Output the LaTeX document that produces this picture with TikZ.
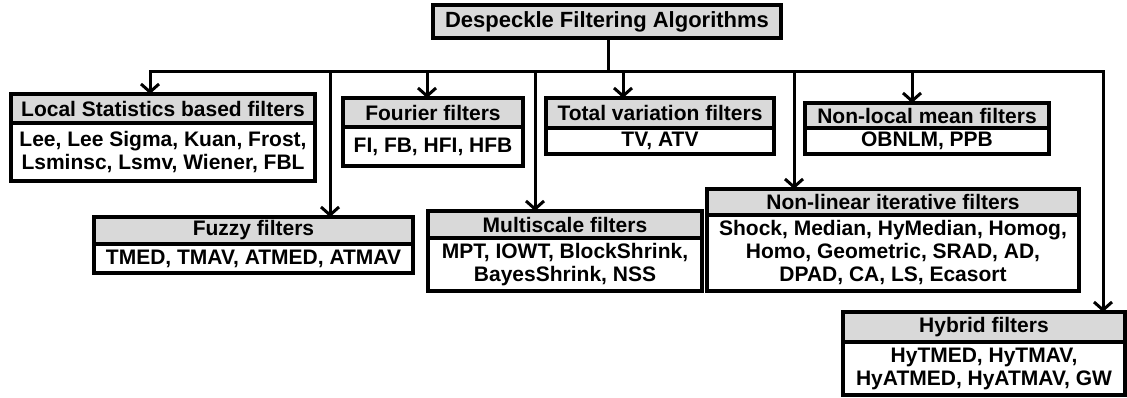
\documentclass[tikz,border=0pt]{standalone}
\usepackage{fontspec}
\setmainfont{Liberation Sans}
\usetikzlibrary{arrows.meta}
\definecolor{headgray}{HTML}{D9D9D9}
\tikzset{
  boxhead/.style={draw, line width=3.5pt, fill=headgray, inner sep=0pt, outer sep=0pt,
    anchor=north west, align=center, font=\fontsize{21}{23}\selectfont\bfseries},
  boxbody/.style={draw, line width=3.5pt, fill=white, inner sep=0pt, outer sep=0pt,
    anchor=north west, align=center, font=\fontsize{21}{23}\selectfont\bfseries},
  link/.style={line width=3pt},
  arr/.style={line width=3pt, -{Straight Barb[length=8pt,width=18pt]}},
}
\begin{document}
\begin{tikzpicture}[x=1pt,y=1pt]
\useasboundingbox (0,0) rectangle (1127,-398);

% root
\node[boxhead, minimum width=348pt, minimum height=33pt,
      font=\fontsize{22}{24}\selectfont\bfseries] (root) at (433,-5)
  {Despeckle Filtering Algorithms};

% Local statistics
\node[boxhead, minimum width=304pt, minimum height=29pt] (localH) at (11,-94)
  {Local Statistics based filters};
\node[boxbody, minimum width=304pt, minimum height=58pt] (localB) at (localH.south west)
  {Lee, Lee Sigma, Kuan, Frost,\\Lsminsc, Lsmv, Wiener, FBL};

% Fourier
\node[boxhead, minimum width=180pt, minimum height=29pt] (fourH) at (343,-98)
  {Fourier filters};
\node[boxbody, minimum width=180pt, minimum height=39pt] (fourB) at (fourH.south west)
  {FI, FB, HFI, HFB};

% Total variation
\node[boxhead, minimum width=228pt, minimum height=30pt] (tvH) at (546,-98)
  {Total variation filters};
\node[boxbody, minimum width=228pt, minimum height=26pt] (tvB) at (tvH.south west)
  {TV, ATV};

% Non-local mean
\node[boxhead, minimum width=244pt, minimum height=25pt] (nlmH) at (805,-103)
  {Non-local mean filters};
\node[boxbody, minimum width=244pt, minimum height=26pt] (nlmB) at (nlmH.south west)
  {OBNLM, PPB};

% Fuzzy
\node[boxhead, minimum width=319pt, minimum height=27pt] (fuzH) at (94,-217)
  {Fuzzy filters};
\node[boxbody, minimum width=319pt, minimum height=29pt] (fuzB) at (fuzH.south west)
  {TMED, TMAV, ATMED, ATMAV};

% Multiscale
\node[boxhead, minimum width=274pt, minimum height=27pt] (msH) at (428,-211)
  {Multiscale filters};
\node[boxbody, minimum width=274pt, minimum height=53pt] (msB) at (msH.south west)
  {MPT, IOWT, BlockShrink,\\BayesShrink, NSS};

% Non-linear iterative
\node[boxhead, minimum width=372pt, minimum height=26pt] (nliH) at (707,-189)
  {Non-linear iterative filters};
\node[boxbody, minimum width=372pt, minimum height=76pt] (nliB) at (nliH.south west)
  {Shock, Median, HyMedian, Homog,\\Homo, Geometric, SRAD, AD,\\DPAD, CA, LS, Ecasort};

% Hybrid
\node[boxhead, minimum width=282pt, minimum height=30pt] (hybH) at (843,-312)
  {Hybrid filters};
\node[boxbody, minimum width=282pt, minimum height=53pt] (hybB) at (hybH.south west)
  {HyTMED, HyTMAV,\\HyATMED, HyATMAV, GW};

% distribution bus
\coordinate (busL) at (150,-72);
\coordinate (busR) at (1103,-72);
\coordinate (jFuz) at (330,-72);
\coordinate (jFour) at (427,-72);
\coordinate (jMs) at (535,-72);
\coordinate (jTv) at (623,-72);
\coordinate (jNli) at (794,-72);
\coordinate (jNlm) at (912,-72);

\draw[link] (root.south -| 608,0) -- (608,-72);
\draw[link, line cap=rect] (busL) -- (busR);

\draw[arr] (busL) -- (busL |- localH.north);
\draw[arr] (jFuz) -- (jFuz |- fuzH.north);
\draw[arr] (jFour) -- (jFour |- fourH.north);
\draw[arr] (jMs) -- (jMs |- msH.north);
\draw[arr] (jTv) -- (jTv |- tvH.north);
\draw[arr] (jNli) -- (jNli |- nliH.north);
\draw[arr] (jNlm) -- (jNlm |- nlmH.north);
\draw[arr] (busR) -- (busR |- hybH.north);
\end{tikzpicture}
\end{document}
